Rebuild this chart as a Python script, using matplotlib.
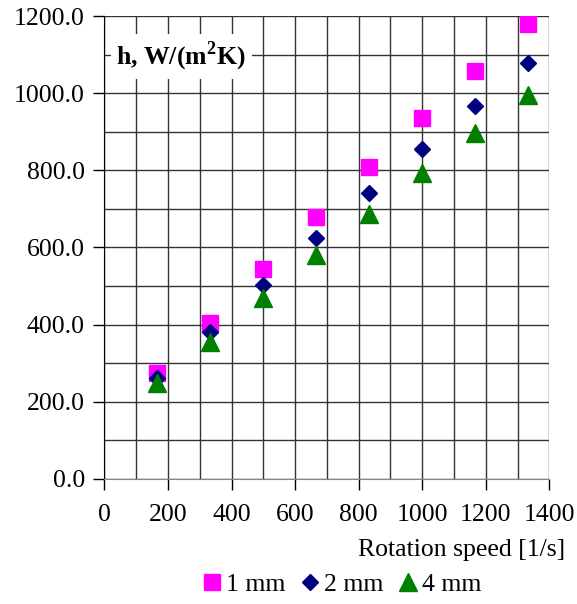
import matplotlib
matplotlib.use("Agg")
import matplotlib.pyplot as plt
from matplotlib.ticker import MultipleLocator, FormatStrFormatter

plt.rcParams['font.family'] = ['Liberation Serif', 'DejaVu Serif']
plt.rcParams['mathtext.fontset'] = 'custom'
plt.rcParams['mathtext.rm'] = 'Liberation Serif'
plt.rcParams['mathtext.bf'] = 'Liberation Serif:bold'

speed = [166.7, 333.3, 500.0, 666.7, 833.3, 1000.0, 1166.7, 1333.3]
h_1mm = [275, 405, 545, 680, 808, 935, 1058, 1180]
h_2mm = [262, 380, 502, 624, 742, 856, 968, 1077]
h_4mm = [248, 355, 468, 580, 686, 792, 896, 995]

fig = plt.figure(figsize=(5.77, 6.04), dpi=100)
ax = fig.add_axes([0.181, 0.207, 0.771, 0.7665])

ax.plot(speed, h_1mm, 's', color='#ff00ff', markersize=11.5, label='1 mm', zorder=3)
ax.plot(speed, h_2mm, 'D', color='#000080', markersize=8.5, label='2 mm', zorder=3)
ax.plot(speed, h_4mm, '^', color='#008000', markersize=12.5, label='4 mm', zorder=3)

ax.set_xlim(0, 1400)
ax.set_ylim(0, 1200)
ax.xaxis.set_major_locator(MultipleLocator(200))
ax.xaxis.set_minor_locator(MultipleLocator(100))
ax.yaxis.set_major_locator(MultipleLocator(200))
ax.yaxis.set_minor_locator(MultipleLocator(100))
ax.yaxis.set_major_formatter(FormatStrFormatter('%.1f'))

ax.grid(True, which='both', color='#333333', linewidth=1)
ax.set_axisbelow(True)
ax.tick_params(which='major', direction='out', length=8, width=1, labelsize=18.5, pad=6)
ax.tick_params(which='minor', length=0)
ax.tick_params(axis='x', pad=10)

for side in ['top', 'right']:
    ax.spines[side].set_visible(False)
ax.spines['left'].set_color('black')
ax.spines['bottom'].set_color('#888888')

ax.text(0.027, 0.912, r'h, W/(m$^{\mathbf{2}}$K)', transform=ax.transAxes, fontsize=18.5,
        fontweight='bold', va='center', ha='left',
        bbox=dict(facecolor='white', edgecolor='none', pad=4), zorder=4)

fig.text(0.979, 0.089, 'Rotation speed [1/s]', ha='right', va='center', fontsize=18.5)

fig.legend(loc='center', bbox_to_anchor=(0.59, 0.032), ncol=3, frameon=False,
           fontsize=18.5, handletextpad=0.05, columnspacing=0.45, handlelength=1.0,
           borderaxespad=0)

fig.savefig('out.png', dpi=100)
